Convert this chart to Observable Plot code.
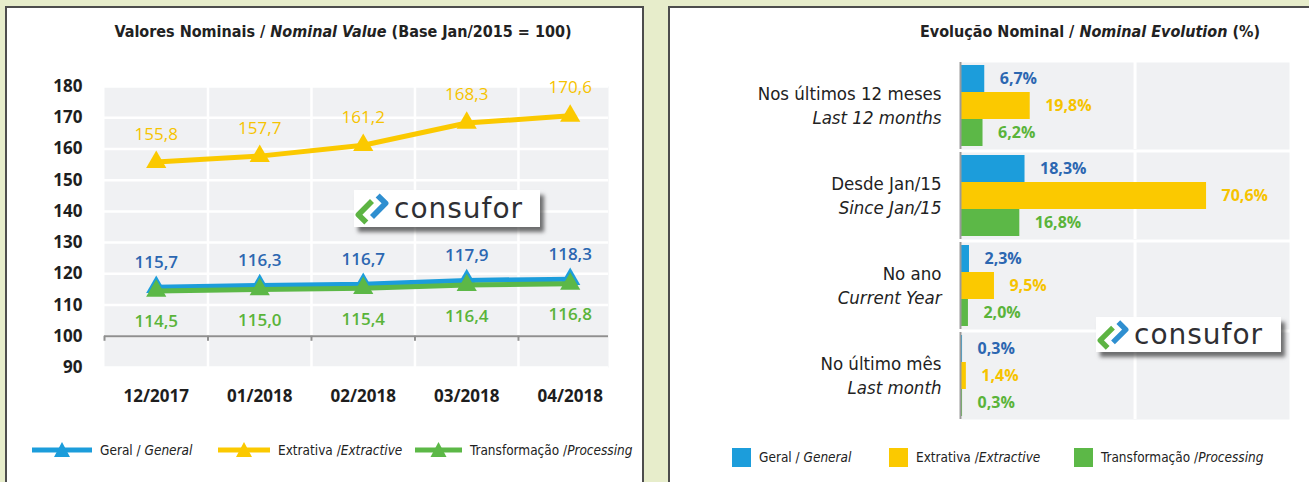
<!DOCTYPE html>
<html>
<head>
<meta charset="utf-8">
<script src="https://cdn.jsdelivr.net/npm/d3@7"></script>
<script src="https://cdn.jsdelivr.net/npm/@observablehq/plot@0.6"></script>
<style>
  body { margin:0; width:1309px; height:482px; background:#e7edcb; position:relative; overflow:hidden; font-family:"Open Sans", sans-serif; }
  .panel { position:absolute; background:#fff; border:2px solid #4d4d4d; box-sizing:border-box; }
  .title { position:absolute; font-family:"Liberation Sans Narrow","DejaVu Sans Condensed","Roboto",sans-serif; font-weight:bold; font-size:16px; color:#222; white-space:nowrap; line-height:20px; }
  .title i { font-style:italic; }
  .chart { position:absolute; }
  .leg { position:absolute; font-family:"Liberation Sans Narrow","DejaVu Sans Condensed","Roboto",sans-serif; font-size:13.5px; color:#222; white-space:nowrap; display:flex; align-items:center; height:20px; }
  .leg svg { margin-right:8px; }
  .logo { position:absolute; background:#fff; box-shadow:4px 5px 4px rgba(0,0,0,0.55); display:flex; align-items:center; }
  .logo span { font-family:"DejaVu Sans", sans-serif; color:#2f2f33; letter-spacing:1px; white-space:nowrap; }
</style>
</head>
<body>
<div class="panel" style="left:5px;top:6px;width:639px;height:500px"></div>
<div class="panel" style="left:668px;top:6px;width:680px;height:500px"></div>

<div class="title" style="left:0;width:686px;top:22px;text-align:center">Valores Nominais / <i>Nominal Value</i> (Base Jan/2015 = 100)</div>
<div class="title" style="right:49px;top:22px;text-align:right">Evolução Nominal / <i>Nominal Evolution</i> (%)</div>

<div id="left" class="chart" style="left:0;top:60px"></div>
<div id="right" class="chart" style="left:668px;top:50px"></div>

<div id="legLeft"></div>
<div id="legRight"></div>

<div class="logo" style="left:354px;top:190px;width:186px;height:37px">
  <svg width="34" height="34" viewBox="0 0 30 30" style="margin-left:1px;flex:none">
    <path d="M10 27 L3 20 L15 8" fill="none" stroke="#5db443" stroke-width="5" stroke-linejoin="round"/>
    <path d="M20 3 L27 10 L15 22" fill="none" stroke="#2f8fd0" stroke-width="5" stroke-linejoin="round"/>
  </svg>
  <span style="font-size:28px;margin-left:5px">consufor</span>
</div>
<div class="logo" style="left:1096px;top:317px;width:185px;height:35px">
  <svg width="32" height="32" viewBox="0 0 30 30" style="margin-left:1px;flex:none">
    <path d="M10 27 L3 20 L15 8" fill="none" stroke="#5db443" stroke-width="5" stroke-linejoin="round"/>
    <path d="M20 3 L27 10 L15 22" fill="none" stroke="#2f8fd0" stroke-width="5" stroke-linejoin="round"/>
  </svg>
  <span style="font-size:28px;margin-left:5px">consufor</span>
</div>

<script>
// ---------- DATA ----------
const months = ["12/2017", "01/2018", "02/2018", "03/2018", "04/2018"];
const geral = [115.7, 116.3, 116.7, 117.9, 118.3];
const extrativa = [155.8, 157.7, 161.2, 168.3, 170.6];
const transformacao = [114.5, 115.0, 115.4, 116.4, 116.8];
const yTicks = [90, 100, 110, 120, 130, 140, 150, 160, 170, 180];

const seriesKeys = ["Geral", "Extrativa", "Transformação"];
const legendPt = ["Geral / ", "Extrativa /", "Transformação /"];
const legendEn = ["General", "Extractive", "Processing"];

const periodsPt = ["Nos últimos 12 meses", "Desde Jan/15", "No ano", "No último mês"];
const periodsEn = ["Last 12 months", "Since Jan/15", "Current Year", "Last month"];
const geralPct = [6.7, 18.3, 2.3, 0.3];
const extrativaPct = [19.8, 70.6, 9.5, 1.4];
const transformacaoPct = [6.2, 16.8, 2.0, 0.3];

// ---------- STYLE ----------
const fillColors = ["#1c9ddb", "#fbc900", "#5cb847"];
const labelColors = ["#2c67b1", "#f6c300", "#5ab43a"];
const condensed = '"Liberation Sans Narrow","DejaVu Sans Condensed","Roboto",sans-serif';
const fmt = v => v.toFixed(1).replace(".", ",");

// ---------- LEFT: line chart ----------
const seriesVals = [geral, extrativa, transformacao];
const lineData = [];
seriesVals.forEach((vals, s) => vals.forEach((v, i) => lineData.push({s: seriesKeys[s], si: s, i, v})));
const bySeries = s => lineData.filter(d => d.si === s);
const labelDy = [-25, -28, 31];
const labelWeight = [600, 400, 600];
const drawOrder = [1, 0, 2];

const left = Plot.plot({
  width: 640, height: 360,
  marginLeft: 104, marginRight: 32, marginTop: 26, marginBottom: 53,
  style: {fontFamily: '"Open Sans", sans-serif', background: "transparent", overflow: "visible"},
  x: {domain: [-0.5, 4.37]},
  y: {domain: [90, 180]},
  marks: [
    Plot.frame({fill: "#f0f1f3", stroke: null}),
    Plot.ruleY(yTicks, {stroke: "#fff", strokeWidth: 2.5}),
    Plot.ruleX([0.5, 1.5, 2.5, 3.5], {stroke: "#fff", strokeWidth: 2.5}),
    Plot.ruleY([100], {stroke: "#8f8f8f", strokeWidth: 2}),
    Plot.ruleX([-0.5, 0.5, 1.5, 2.5, 3.5], {y1: 100, y2: 98.4, stroke: "#8f8f8f", strokeWidth: 2}),
    Plot.axisY(yTicks, {tickSize: 0, tickPadding: 22, fontSize: 17, fontWeight: "bold", fill: "#1e1e1e", label: null}),
    Plot.axisX([0, 1, 2, 3, 4], {tickSize: 0, tickPadding: 22, tickFormat: i => months[i], fontSize: 17, fontWeight: "bold", fill: "#1e1e1e", label: null}),
    ...drawOrder.flatMap(s => [
      Plot.line(bySeries(s), {x: "i", y: "v", stroke: fillColors[s], strokeWidth: 5}),
      Plot.dot(bySeries(s), {x: "i", y: "v", symbol: "triangle", r: 7.5, fill: fillColors[s], stroke: null})
    ]),
    ...[0, 1, 2].map(s =>
      Plot.text(bySeries(s), {x: "i", y: "v", text: d => fmt(d.v), dy: labelDy[s], fill: labelColors[s], fontSize: 17, fontWeight: labelWeight[s]})
    )
  ]
});
document.getElementById("left").append(left);

// ---------- RIGHT: grouped bars ----------
const pctVals = [geralPct, extrativaPct, transformacaoPct];
const barData = [];
periodsPt.forEach((p, g) => pctVals.forEach((vals, s) => barData.push({p, s: seriesKeys[s], si: s, v: vals[g]})));
const periodData = periodsPt.map((pt, i) => ({pt, en: periodsEn[i]}));

const right = Plot.plot({
  width: 641, height: 380,
  marginLeft: 293, marginRight: 20, marginTop: 11, marginBottom: 10,
  style: {fontFamily: '"Open Sans", sans-serif', background: "transparent", overflow: "visible"},
  fy: {domain: periodsPt, paddingInner: 0.03, paddingOuter: 0, axis: null},
  y: {domain: seriesKeys, paddingInner: 0, paddingOuter: 0.06, axis: null},
  x: {domain: [0, 94.5], axis: null},
  color: {domain: seriesKeys, range: fillColors},
  marks: [
    Plot.frame({fill: "#f0f1f3", stroke: null}),
    Plot.ruleX([50], {stroke: "#fff", strokeWidth: 3}),
    Plot.barX(barData, {fy: "p", y: "s", x: "v", fill: "s"}),
    Plot.ruleX([0], {stroke: "#9a9a9a", strokeWidth: 2, dx: -1}),
    ...[0, 1, 2].map(s =>
      Plot.text(barData.filter(d => d.si === s), {fy: "p", y: "s", x: "v", text: d => fmt(d.v) + "%", dx: 15, textAnchor: "start", fill: labelColors[s], fontSize: 16, fontWeight: 700})
    ),
    Plot.text(periodData, {fy: "pt", text: "pt", frameAnchor: "left", dx: -20, dy: -12, textAnchor: "end", fontSize: 18.5, fill: "#222", fontFamily: condensed}),
    Plot.text(periodData, {fy: "pt", text: "en", frameAnchor: "left", dx: -20, dy: 12, textAnchor: "end", fontSize: 18.5, fill: "#222", fontStyle: "italic", fontFamily: condensed})
  ]
});
document.getElementById("right").append(right);

// ---------- LEGENDS ----------
const legLeftX = [32, 218, 415];
const legLeftW = [60, 52, 47];
const legLeft = document.getElementById("legLeft");
seriesKeys.forEach((k, s) => {
  const div = document.createElement("div");
  div.className = "leg";
  div.style.left = legLeftX[s] + "px";
  div.style.top = "440px";
  const w = legLeftW[s];
  div.innerHTML = `<svg width="${w}" height="20"><line x1="0" x2="${w}" y1="10" y2="10" stroke="${fillColors[s]}" stroke-width="5"/>` +
    `<path d="M${w/2} 2 L${w/2 + 8} 17 L${w/2 - 8} 17 Z" fill="${fillColors[s]}"/></svg>` +
    `<span>${legendPt[s]}<i>${legendEn[s]}</i></span>`;
  legLeft.append(div);
});
const legRightX = [732, 889, 1074];
const legRight = document.getElementById("legRight");
seriesKeys.forEach((k, s) => {
  const div = document.createElement("div");
  div.className = "leg";
  div.style.left = legRightX[s] + "px";
  div.style.top = "447px";
  div.innerHTML = `<svg width="19" height="19"><rect width="19" height="19" fill="${fillColors[s]}"/></svg>` +
    `<span>${legendPt[s]}<i>${legendEn[s]}</i></span>`;
  legRight.append(div);
});
</script>
</body>
</html>
